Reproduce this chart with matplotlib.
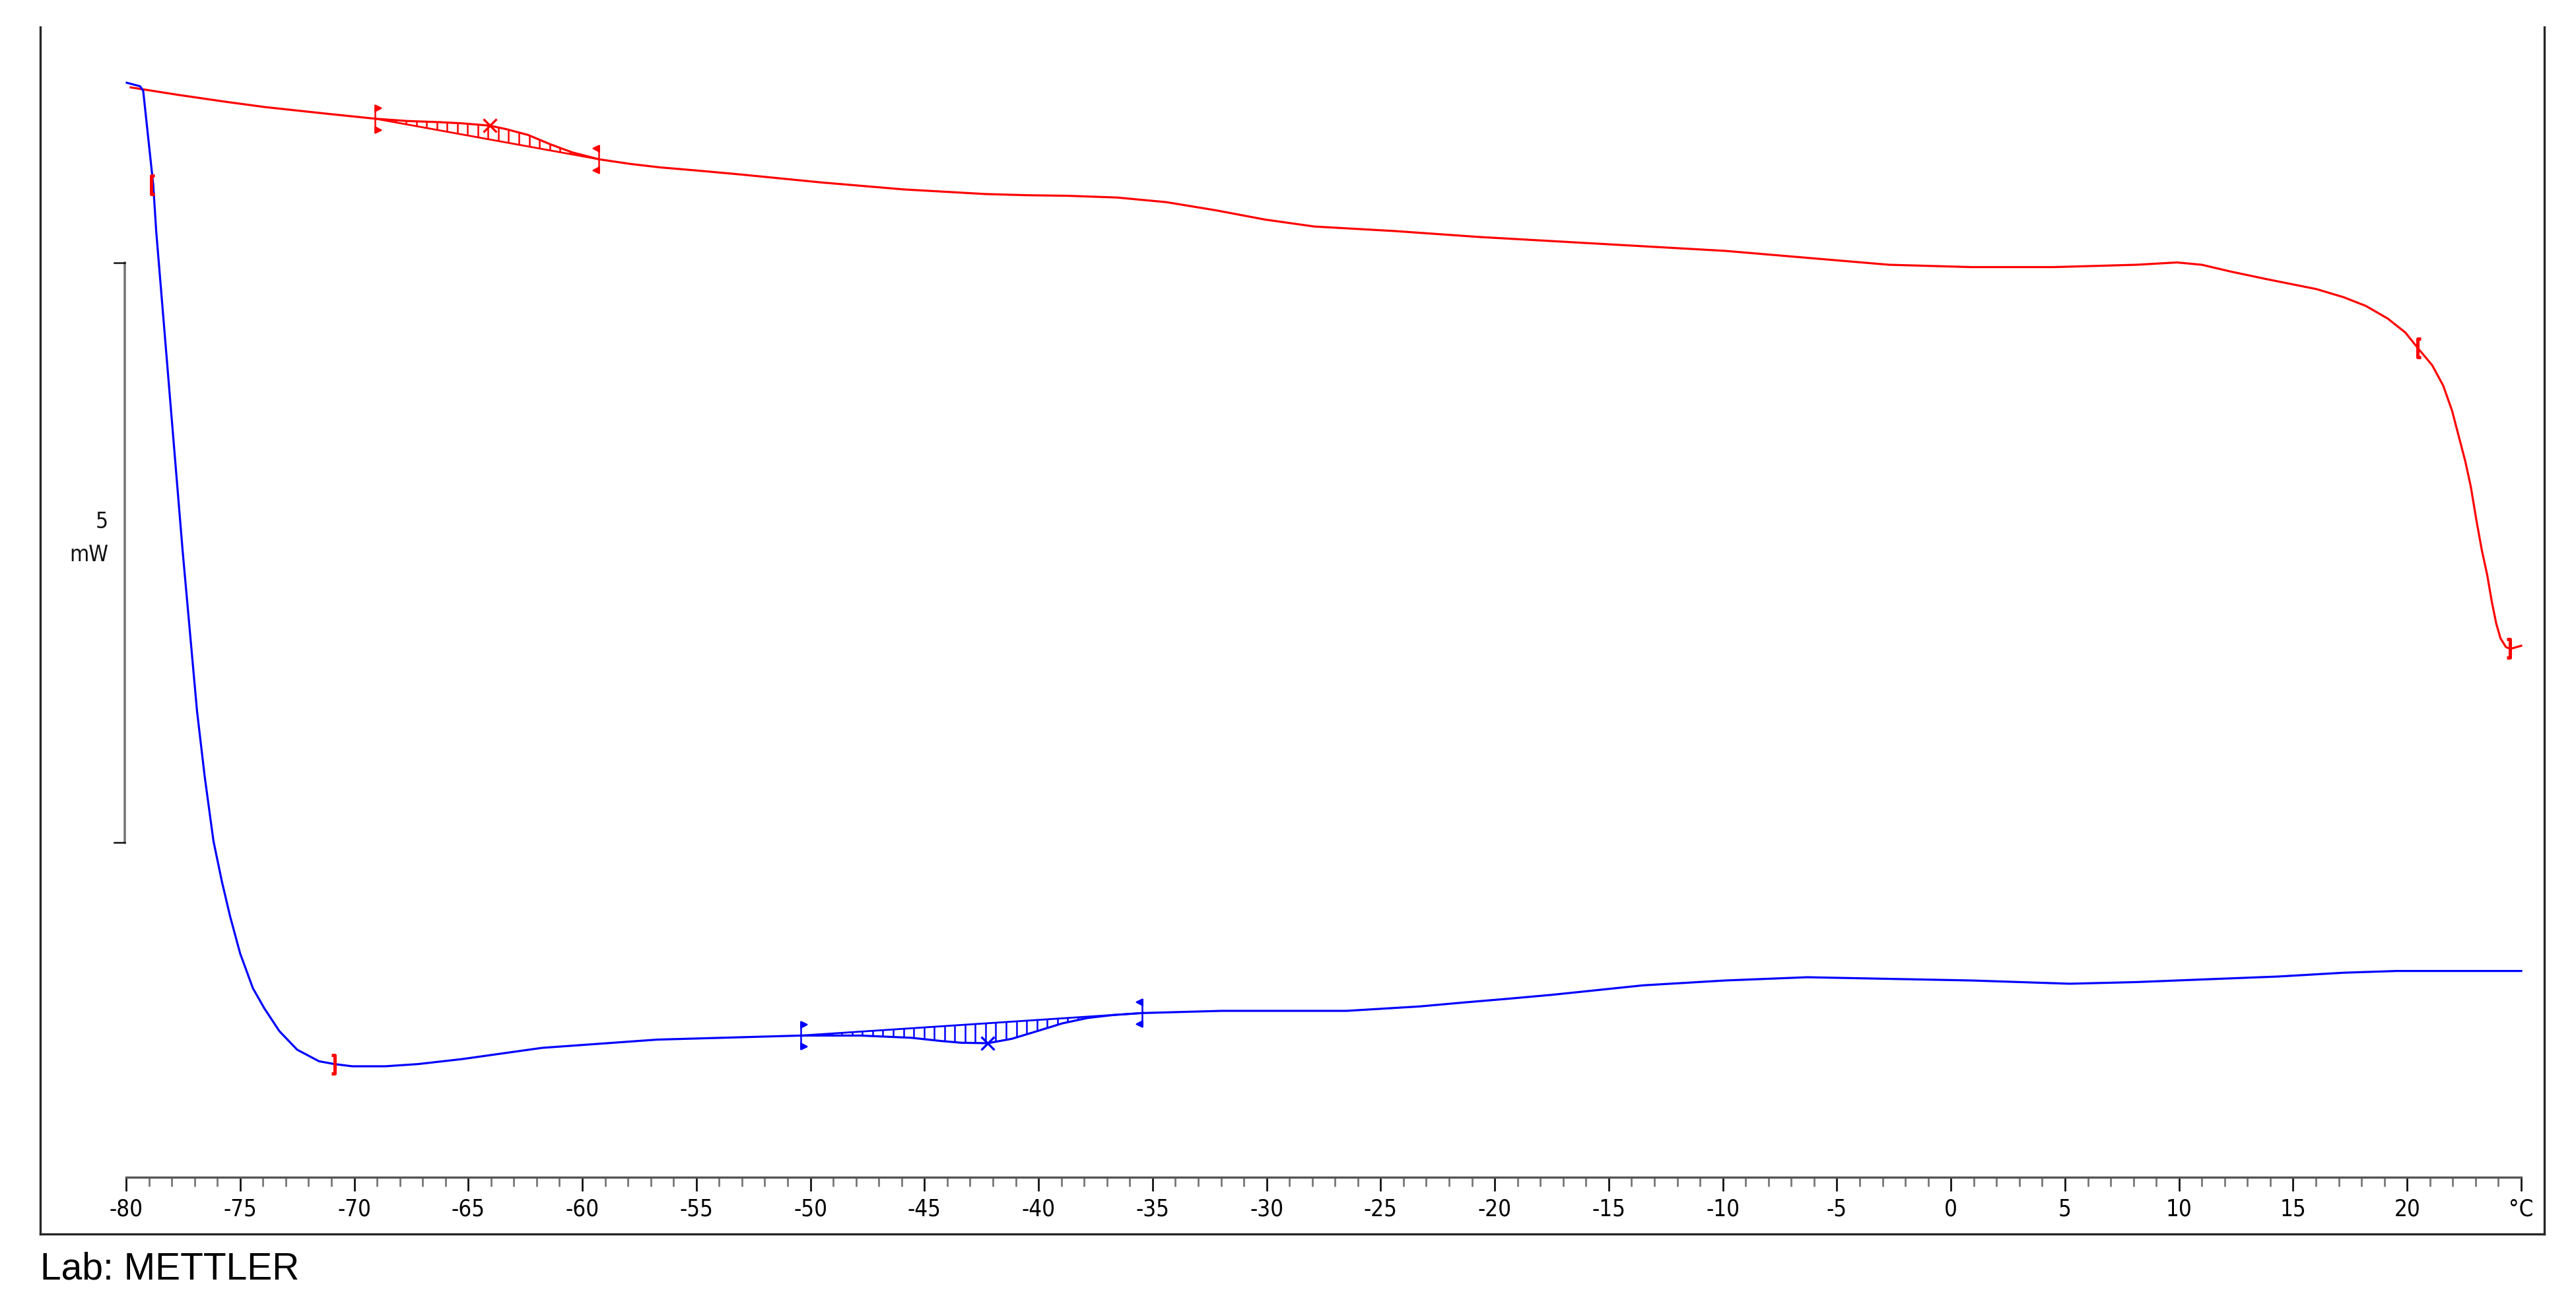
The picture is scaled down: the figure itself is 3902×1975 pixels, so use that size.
import numpy as np
import matplotlib
matplotlib.use("Agg")
import matplotlib.pyplot as plt
from matplotlib.path import Path

# DSC curves: temperature in °C, heat flow in mW (offset is arbitrary)
red_temp = [-79.80, -77.70, -75.60, -73.90, -71.06, -69.08, -67.68, -66.23, -65.27, -64.06,
            -63.34, -62.38, -61.41, -60.45, -59.27, -57.90, -56.59, -54.80, -53.12, -49.51,
            -45.91, -42.31, -40.50, -38.71, -36.55, -34.39, -32.23, -30.07, -27.91, -24.31,
            -20.70, -17.10, -13.50, -9.90, -6.30, -2.70, 0.90, 4.50, 8.11, 9.91,
            11.00, 12.30, 13.87, 16.03, 17.22, 18.19, 19.15, 19.92, 20.45, 21.10,
            21.58, 21.97, 22.26, 22.55, 22.79, 23.03, 23.27, 23.51, 23.70, 23.90,
            24.09, 24.33, 24.52, 25.00]
red_flow = [9.40, 9.335, 9.275, 9.23, 9.17, 9.13, 9.11, 9.10, 9.09, 9.07,
            9.04, 8.99, 8.91, 8.84, 8.78, 8.74, 8.71, 8.68, 8.65, 8.58,
            8.52, 8.48, 8.47, 8.465, 8.45, 8.41, 8.34, 8.26, 8.20, 8.16,
            8.11, 8.07, 8.03, 7.99, 7.93, 7.87, 7.85, 7.85, 7.87, 7.89,
            7.87, 7.81, 7.745, 7.66, 7.59, 7.515, 7.406, 7.286, 7.156, 7.003,
            6.828, 6.611, 6.392, 6.174, 5.957, 5.673, 5.412, 5.194, 4.976, 4.780,
            4.649, 4.573, 4.557, 4.584]

blue_temp = [-79.97, -79.39, -79.25, -78.81, -78.68, -78.10, -77.52, -76.89, -76.55, -76.17,
             -75.80, -75.44, -75.00, -74.44, -73.95, -73.28, -72.50, -71.54, -70.86, -70.09,
             -68.64, -67.20, -65.27, -61.76, -56.72, -50.42, -47.82, -45.59, -44.27, -43.39,
             -42.23, -41.17, -40.06, -38.96, -37.84, -36.73, -35.46, -31.98, -26.50, -25.24,
             -23.30, -21.37, -19.44, -17.51, -13.50, -9.90, -6.30, -2.70, 0.90, 5.20,
             8.10, 11.70, 14.33, 17.22, 19.54, 25.00]
blue_flow = [9.44, 9.41, 9.37, 8.56, 8.16, 6.78, 5.40, 4.02, 3.45, 2.90,
             2.55, 2.25, 1.93, 1.63, 1.46, 1.26, 1.10, 1.00, 0.976, 0.957,
             0.957, 0.976, 1.019, 1.116, 1.187, 1.222, 1.222, 1.203, 1.175, 1.160,
             1.156, 1.194, 1.260, 1.327, 1.374, 1.399, 1.416, 1.435, 1.435, 1.450,
             1.473, 1.507, 1.539, 1.573, 1.655, 1.697, 1.725, 1.711, 1.697, 1.669,
             1.683, 1.711, 1.731, 1.764, 1.779, 1.779]

# glass transition evaluations (onset/end limits and midpoint)
red_limits = [-69.08, -59.27]
red_mid = -64.06
blue_limits = [-50.42, -35.46]
blue_mid = -42.23

# integration limit brackets
open_temp = [-78.90, 20.45]
open_flow = [8.56, 7.15]
close_temp = [-70.86, 24.50]
close_flow = [0.976, 4.56]

scale_mw = 5
scale_base = 2.89

x_ticks = list(range(-80, 26, 5))
x_labels = [str(t) for t in x_ticks[:-1]] + ["°C"]

RED = "#ff0000"
BLUE = "#0000ff"
LABEL_FONT = dict(family="DejaVu Sans", stretch="condensed")

W, H = 3902, 1975
fig = plt.figure(figsize=(W / 100, H / 100), dpi=100)
fig.patch.set_facecolor("white")

# outer frame (no top edge)
frame = fig.add_axes([61 / W, 1 - 1869 / H, (3854 - 61) / W, (1869 - 41) / H])
frame.set_xticks([])
frame.set_yticks([])
frame.spines["top"].set_visible(False)
for s in ["left", "right", "bottom"]:
    frame.spines[s].set_linewidth(2.4)
    frame.spines[s].set_color("#262626")

# plotting axes, bottom spine is the temperature axis
ax = fig.add_axes([191 / W, 1 - 1783 / H, (3819 - 191) / W, (1783 - 41) / H])
ax.patch.set_visible(False)
ax.set_xlim(-80, 25)
ax.set_ylim(0, (1783 - 41) / 175.6)
for s in ["left", "right", "top"]:
    ax.spines[s].set_visible(False)
ax.spines["bottom"].set_color("#555555")
ax.spines["bottom"].set_linewidth(2.4)
ax.set_yticks([])
ax.set_xticks(x_ticks)
ax.set_xticklabels(x_labels, **LABEL_FONT)
ax.set_xticks(np.arange(-80, 26, 1), minor=True)
ax.tick_params(axis="x", which="major", direction="out", length=15, width=2.0,
               color="#111111", labelsize=25, pad=8)
ax.tick_params(axis="x", which="minor", direction="out", length=10, width=2.0,
               color="#777777")

# curves
ax.plot(red_temp, red_flow, color=RED, lw=2.3, clip_on=False, zorder=3,
        solid_joinstyle="round")
ax.plot(blue_temp, blue_flow, color=BLUE, lw=2.3, clip_on=False, zorder=3,
        solid_joinstyle="round")


def flag(direction):
    d = direction
    verts = [(0, -1), (0, 1),
             (0, 1), (0.42 * d, 0.8), (0, 0.58), (0, 1),
             (0, -1), (0.42 * d, -0.8), (0, -0.58), (0, -1)]
    codes = [Path.MOVETO, Path.LINETO,
             Path.MOVETO, Path.LINETO, Path.LINETO, Path.CLOSEPOLY,
             Path.MOVETO, Path.LINETO, Path.LINETO, Path.CLOSEPOLY]
    return Path(verts, codes)


def bracket(direction):
    d = direction
    return Path([(0.38 * d, 1), (0, 1), (0, -1), (0.38 * d, -1)],
                [Path.MOVETO, Path.LINETO, Path.LINETO, Path.LINETO])


def evaluation(temp, flow, limits, mid, color):
    t0, t1 = limits
    f0, f1 = np.interp([t0, t1], temp, flow)
    ts = np.arange(t0, t1, 0.45)[1:]
    curve = np.interp(ts, temp, flow)
    base = f0 + (f1 - f0) * (ts - t0) / (t1 - t0)
    ax.vlines(ts, base, curve, color=color, lw=1.8, zorder=2)
    ax.plot([t0, t1], [f0, f1], color=color, lw=2.0, zorder=2)
    ax.plot([t0], [f0], marker=flag(1), ms=30, color=color, mew=1.8, zorder=4)
    ax.plot([t1], [f1], marker=flag(-1), ms=30, color=color, mew=1.8, zorder=4)
    ax.plot([mid], [np.interp(mid, temp, flow)], marker="x", ms=15, mew=2.4,
            color=color, zorder=4)


evaluation(red_temp, red_flow, red_limits, red_mid, RED)
evaluation(blue_temp, blue_flow, blue_limits, blue_mid, BLUE)

ax.plot(open_temp, open_flow, ls="none", marker=bracket(1), ms=20, mew=3.6,
        color=RED, fillstyle="none", clip_on=False, zorder=5)
ax.plot(close_temp, close_flow, ls="none", marker=bracket(-1), ms=20, mew=3.6,
        color=RED, fillstyle="none", clip_on=False, zorder=5)

# 5 mW scale bar
bar_x = -80 - 2 / 34.55
tick_x = -80 - 18 / 34.55
ax.plot([bar_x, bar_x], [scale_base, scale_base + scale_mw], color="#777777",
        lw=2.6, clip_on=False)
for yy in [scale_base, scale_base + scale_mw]:
    ax.plot([tick_x, bar_x], [yy, yy], color="#111111", lw=1.8, clip_on=False)
ax.text(-80.78, scale_base + scale_mw / 2 + 0.26, str(scale_mw), ha="right",
        va="center", fontsize=24, color="#111111", **LABEL_FONT)
ax.text(-80.78, scale_base + scale_mw / 2 - 0.025, "mW", ha="right",
        va="center", fontsize=24, color="#111111", **LABEL_FONT)

fig.text(61 / W, 1 - 1938 / H, "Lab: METTLER", fontsize=41,
         family="Liberation Sans", va="baseline", ha="left")

fig.savefig("out.png", dpi=100)
